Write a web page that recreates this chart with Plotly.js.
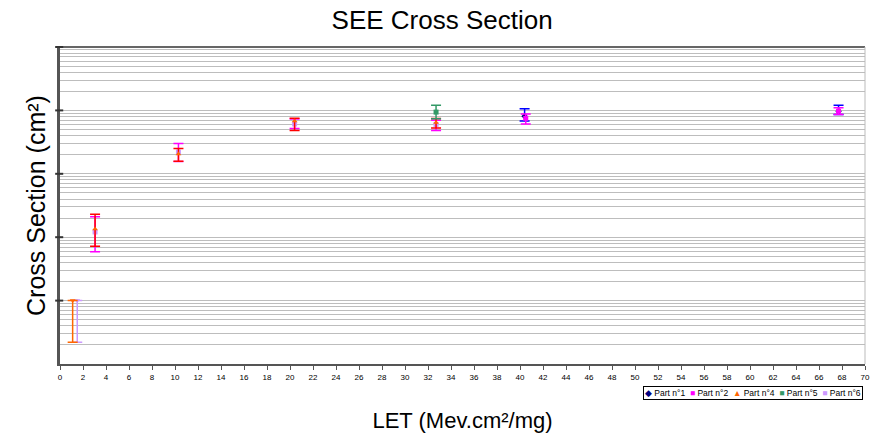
<!DOCTYPE html>
<html><head><meta charset="utf-8">
<script src="https://cdn.plot.ly/plotly-3.0.1.min.js"></script>
<style>body{margin:0;background:#fff}#c{width:872px;height:436px}</style>
</head><body><div id="c"></div>
<script>
// LET (Mev.cm²/mg) and cross section (cm²) per part
const p1_let = [40.4, 67.7];
const p1_xs = [8.1e-6, 9.7e-6];
const p1_hi = [1.06e-5, 1.21e-5];
const p1_lo = [6.8e-6, 8.6e-6];

const p2_let = [40.5, 67.7];
const p2_xs = [7.5e-6, 9.7e-6];
const p2_hi = [8.8e-6, 1.1e-5];
const p2_lo = [6.1e-6, 8.6e-6];

const p4_let = [3.05, 10.3, 20.4, 32.7];
const p4_xs = [1.35e-7, 2.05e-6, 6.8e-6, 6.45e-6];
const p4_hi = [2.3e-7, 2.5e-6, 7.5e-6, 7.45e-6];
const p4_lo = [7.2e-8, 1.58e-6, 4.8e-6, 5.3e-6];

const p4low_let = [1.1];
const p4low_xs = [1.0e-8];
const p4low_lo = [2.2e-9];

const p5_let = [32.7];
const p5_xs = [9.4e-6];
const p5_hi = [1.21e-5];
const p5_lo = [7.4e-6];

const p6_let = [3.05, 10.3, 20.4, 32.7];
const p6_xs = [1.21e-7, 2.2e-6, 6.1e-6, 6.0e-6];
const p6_hi = [2.1e-7, 3.0e-6, 7.3e-6, 7.0e-6];
const p6_lo = [5.9e-8, 1.57e-6, 5.2e-6, 4.8e-6];

const p6low_let = [1.5];
const p6low_xs = [1.0e-8];
const p6low_lo = [2.2e-9];

const partNames = ['Part n°1', 'Part n°2', 'Part n°4', 'Part n°5', 'Part n°6'];
const partColors = ['#000080', '#ff00ff', '#ff6600', '#339966', '#cc99ff'];
const partGlyphs = ['◆', '■', '▲', '■', '■'];

const xTicks = [];
for (let v = 0; v <= 70; v += 2) xTicks.push(v);

function minus(a, b) { return a.map((v, i) => v - b[i]); }
function over(a, b) { return a.map((v, i) => b[i] - v); }

function tr(name, x, y, hi, lo, col, ecol, sym) {
  return {
    type: 'scatter', mode: 'markers', name: name, x: x, y: y, showlegend: false,
    marker: {color: col, symbol: sym, size: 5},
    error_y: {type: 'data', symmetric: false,
      array: hi ? over(y, hi) : y.map(() => 0),
      arrayminus: minus(y, lo), color: ecol, thickness: 1.5, width: 5}
  };
}

const data = [
  tr(partNames[4], p6low_let, p6low_xs, null, p6low_lo, '#cc99ff', '#cc99ff', 'triangle-down'),
  tr(partNames[2], p4low_let, p4low_xs, null, p4low_lo, '#ff6600', '#ff6600', 'triangle-down'),
  tr(partNames[4], p6_let, p6_xs, p6_hi, p6_lo, partColors[4], '#ff00ff', 'square'),
  tr(partNames[2], p4_let, p4_xs, p4_hi, p4_lo, partColors[2], '#ff0000', 'triangle-up'),
  tr(partNames[3], p5_let, p5_xs, p5_hi, p5_lo, partColors[3], '#339966', 'square'),
  tr(partNames[0], p1_let, p1_xs, p1_hi, p1_lo, partColors[0], '#0000ff', 'diamond'),
  tr(partNames[1], p2_let, p2_xs, p2_hi, p2_lo, partColors[1], '#ff00ff', 'square')
];

const legendText = partNames.map((n, i) =>
  '<span style="color:' + partColors[i] + '">' + partGlyphs[i] + '</span> ' + n).join('  ');

const shapes = [
  {type: 'line', xref: 'paper', yref: 'paper', x0: 0, x1: 1, y0: 1, y1: 1, line: {color: '#666', width: 2}},
  {type: 'line', xref: 'paper', yref: 'paper', x0: 1, x1: 1, y0: 0, y1: 1, line: {color: '#bbb', width: 1}}
];
for (let k = 1; k <= 5; k++) {
  shapes.push({type: 'line', xref: 'paper', yref: 'paper', x0: -0.006, x1: 0.004, y0: k / 5, y1: k / 5,
    line: {color: '#333', width: 2}});
}

const layout = {
  width: 872, height: 436,
  margin: {l: 60, r: 7, t: 47, b: 72},
  paper_bgcolor: '#fff', plot_bgcolor: '#fff',
  font: {family: 'Liberation Sans, Arial, sans-serif', color: '#000'},
  showlegend: false,
  title: {text: 'SEE Cross Section', font: {size: 26}, x: 0.507, xanchor: 'center', y: 0.955, yanchor: 'middle'},
  xaxis: {
    range: [0, 70], tickvals: xTicks, ticktext: xTicks.map(String),
    tickfont: {size: 8, color: '#000'}, ticks: 'outside', ticklen: 4, tickcolor: '#555',
    showline: true, linecolor: '#555', linewidth: 2, showgrid: false, zeroline: false,
    title: {text: 'LET (Mev.cm²/mg)', font: {size: 22}, standoff: 32}
  },
  yaxis: {
    type: 'log', range: [-9, -4], dtick: 'D1', showticklabels: false, ticks: '',
    showline: true, linecolor: '#555', linewidth: 3, showgrid: true, gridcolor: '#bdbdbd', gridwidth: 1,
    zeroline: false,
    title: {text: 'Cross Section (cm²)', font: {size: 25}, standoff: 5}
  },
  shapes: shapes,
  annotations: [{
    xref: 'paper', yref: 'paper', x: 0.9975, xanchor: 'right', y: -0.068, yanchor: 'top',
    text: legendText, showarrow: false, font: {size: 8.5, color: '#000'},
    bordercolor: '#000', borderwidth: 1, borderpad: 1, bgcolor: '#fff'
  }]
};

Plotly.newPlot('c', data, layout, {displayModeBar: false, staticPlot: true});
</script></body></html>
